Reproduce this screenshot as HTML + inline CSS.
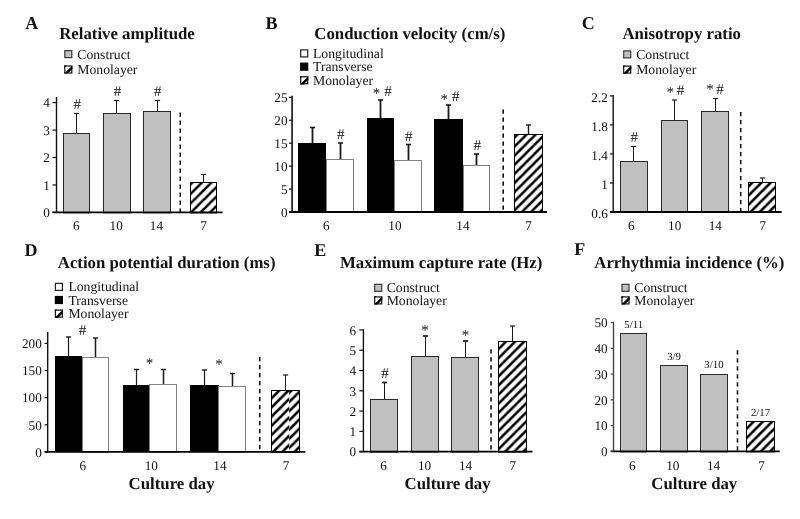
<!DOCTYPE html>
<html><head><meta charset="utf-8"><style>
html,body{margin:0;padding:0;background:#fff;}
svg{display:block;filter:grayscale(1) blur(0.35px);}
text{font-family:"Liberation Serif", serif;fill:#111;text-rendering:geometricPrecision;}
</style></head><body>
<svg width="800" height="519" viewBox="0 0 800 519">
<defs><pattern id="hA" patternUnits="userSpaceOnUse" x="4.5" y="0" width="9.5" height="9.5"><path d="M-4.75,4.75 L4.75,-4.75 M-4.75,14.25 L14.25,-4.75 M4.75,14.25 L14.25,4.75" stroke="#000" stroke-width="2.5"/></pattern><pattern id="hB" patternUnits="userSpaceOnUse" x="5.9" y="0" width="9.1" height="9.1"><path d="M-4.55,4.55 L4.55,-4.55 M-4.55,13.65 L13.65,-4.55 M4.55,13.65 L13.65,4.55" stroke="#000" stroke-width="2.5"/></pattern><pattern id="hC" patternUnits="userSpaceOnUse" x="5.7" y="0" width="9.2" height="9.2"><path d="M-4.6,4.6 L4.6,-4.6 M-4.6,13.8 L13.8,-4.6 M4.6,13.8 L13.8,4.6" stroke="#000" stroke-width="2.5"/></pattern><pattern id="hD" patternUnits="userSpaceOnUse" x="7.4" y="0" width="9.2" height="9.2"><path d="M-4.6,4.6 L4.6,-4.6 M-4.6,13.8 L13.8,-4.6 M4.6,13.8 L13.8,4.6" stroke="#000" stroke-width="2.5"/></pattern><pattern id="hD2" patternUnits="userSpaceOnUse" x="1.2" y="0" width="9.2" height="9.2"><path d="M-4.6,4.6 L4.6,-4.6 M-4.6,13.8 L13.8,-4.6 M4.6,13.8 L13.8,4.6" stroke="#000" stroke-width="2.5"/></pattern><pattern id="hE" patternUnits="userSpaceOnUse" x="1.3" y="0" width="9.1" height="9.1"><path d="M-4.55,4.55 L4.55,-4.55 M-4.55,13.65 L13.65,-4.55 M4.55,13.65 L13.65,4.55" stroke="#000" stroke-width="2.5"/></pattern><pattern id="hF" patternUnits="userSpaceOnUse" x="0.55" y="0" width="9.25" height="9.25"><path d="M-4.625,4.625 L4.625,-4.625 M-4.625,13.875 L13.875,-4.625 M4.625,13.875 L13.875,4.625" stroke="#000" stroke-width="2.5"/></pattern></defs>
<rect width="800" height="519" fill="#fff"/>
<text x="25.3" y="29.3" font-size="18" font-weight="bold" text-anchor="start">A</text>
<text x="59.2" y="38.5" font-size="16.8" font-weight="bold" text-anchor="start">Relative amplitude</text>
<rect x="64.8" y="50.6" width="6.999999999999999" height="6.999999999999999" fill="#c0c0c0" stroke="#383838" stroke-width="1.2"/>
<text x="77.3" y="58.6" font-size="13.7" text-anchor="start">Construct</text>
<rect x="64.8" y="66.0" width="6.999999999999999" height="6.999999999999999" fill="#fff" stroke="#111" stroke-width="1.2"/>
<polygon points="64.2,73.60000000000001 72.4,65.4 72.4,68.80000000000001 67.60000000000001,73.60000000000001" fill="#000"/>
<polygon points="64.2,65.4 66.4,65.4 64.2,67.60000000000001" fill="#000"/>
<text x="77.3" y="74.0" font-size="13.7" text-anchor="start">Monolayer</text>
<rect x="63.5" y="133.5" width="26" height="79.4" fill="#c0c0c0" stroke="#2a2a2a" stroke-width="1"/>
<line x1="76.5" y1="133" x2="76.5" y2="113.5" stroke="#1a1a1a" stroke-width="1.0"/>
<line x1="73.9" y1="113.5" x2="79.1" y2="113.5" stroke="#1a1a1a" stroke-width="1.2"/>
<text x="77.15" y="109.47" font-size="15" text-anchor="middle">#</text>
<rect x="103.5" y="113.5" width="27" height="99.4" fill="#c0c0c0" stroke="#2a2a2a" stroke-width="1"/>
<line x1="116.5" y1="114" x2="116.5" y2="100.5" stroke="#1a1a1a" stroke-width="1.0"/>
<line x1="113.9" y1="100.5" x2="119.1" y2="100.5" stroke="#1a1a1a" stroke-width="1.2"/>
<text x="117.6" y="96.29" font-size="15" text-anchor="middle">#</text>
<rect x="143.5" y="111.5" width="27" height="101.4" fill="#c0c0c0" stroke="#2a2a2a" stroke-width="1"/>
<line x1="157.5" y1="111" x2="157.5" y2="100.5" stroke="#1a1a1a" stroke-width="1.0"/>
<line x1="154.9" y1="100.5" x2="160.1" y2="100.5" stroke="#1a1a1a" stroke-width="1.2"/>
<text x="157.8" y="96.29" font-size="15" text-anchor="middle">#</text>
<rect x="190.5" y="182.5" width="26" height="30.400000000000006" fill="url(#hA)" stroke="#000" stroke-width="1"/>
<line x1="203.5" y1="182" x2="203.5" y2="174.5" stroke="#1a1a1a" stroke-width="1.0"/>
<line x1="200.9" y1="174.5" x2="206.1" y2="174.5" stroke="#1a1a1a" stroke-width="1.2"/>
<line x1="180.2" y1="112.4" x2="180.2" y2="212.4" stroke="#000" stroke-width="1.5" stroke-dasharray="4.3,3.7"/>
<text x="76.4" y="230.2" font-size="13.2" text-anchor="middle">6</text>
<text x="116.2" y="230.2" font-size="13.2" text-anchor="middle">10</text>
<text x="156.4" y="230.2" font-size="13.2" text-anchor="middle">14</text>
<text x="203.6" y="230.2" font-size="13.2" text-anchor="middle">7</text>
<text x="265.5" y="29.2" font-size="18" font-weight="bold" text-anchor="start">B</text>
<text x="314.3" y="39" font-size="16.8" font-weight="bold" text-anchor="start">Conduction velocity (cm/s)</text>
<rect x="300.70000000000005" y="49.9" width="6.999999999999999" height="6.999999999999999" fill="#fff" stroke="#222" stroke-width="1.2"/>
<text x="313" y="57.9" font-size="13.7" text-anchor="start">Longitudinal</text>
<rect x="300.1" y="62.6" width="8.2" height="8.2" fill="#000"/>
<text x="313" y="71.2" font-size="13.7" text-anchor="start">Transverse</text>
<rect x="300.70000000000005" y="76.8" width="6.999999999999999" height="6.999999999999999" fill="#fff" stroke="#111" stroke-width="1.2"/>
<polygon points="300.1,84.4 308.3,76.2 308.3,79.60000000000001 303.5,84.4" fill="#000"/>
<polygon points="300.1,76.2 302.3,76.2 300.1,78.4" fill="#000"/>
<text x="313" y="84.8" font-size="13.7" text-anchor="start">Monolayer</text>
<rect x="298" y="143" width="28" height="69.0" fill="#000"/>
<line x1="312.5" y1="144" x2="312.5" y2="127.5" stroke="#1a1a1a" stroke-width="1.8"/>
<line x1="310.0" y1="127.5" x2="315.0" y2="127.5" stroke="#1a1a1a" stroke-width="1.6"/>
<rect x="326.5" y="159.5" width="27" height="53.0" fill="#fff" stroke="#808080" stroke-width="1"/>
<line x1="340.5" y1="159" x2="340.5" y2="143.0" stroke="#1a1a1a" stroke-width="1.8"/>
<line x1="338.0" y1="143.0" x2="343.0" y2="143.0" stroke="#1a1a1a" stroke-width="1.6"/>
<text x="340.7" y="139.09" font-size="15" text-anchor="middle">#</text>
<rect x="367" y="118" width="27" height="94.0" fill="#000"/>
<line x1="380.5" y1="118" x2="380.5" y2="100.0" stroke="#1a1a1a" stroke-width="1.8"/>
<line x1="378.0" y1="100.0" x2="383.0" y2="100.0" stroke="#1a1a1a" stroke-width="1.6"/>
<text x="376.4" y="98.33" font-size="15" text-anchor="middle">*</text>
<text x="387.9" y="95.89" font-size="15" text-anchor="middle">#</text>
<rect x="394.5" y="160.5" width="27" height="52.0" fill="#fff" stroke="#808080" stroke-width="1"/>
<line x1="408.5" y1="160" x2="408.5" y2="144.5" stroke="#1a1a1a" stroke-width="1.8"/>
<line x1="406.0" y1="144.5" x2="411.0" y2="144.5" stroke="#1a1a1a" stroke-width="1.6"/>
<text x="408.75" y="140.79" font-size="15" text-anchor="middle">#</text>
<rect x="434" y="119" width="29" height="93.0" fill="#000"/>
<line x1="448.5" y1="120" x2="448.5" y2="105.0" stroke="#1a1a1a" stroke-width="1.8"/>
<line x1="446.0" y1="105.0" x2="451.0" y2="105.0" stroke="#1a1a1a" stroke-width="1.6"/>
<text x="444.3" y="103.53" font-size="15" text-anchor="middle">*</text>
<text x="455.8" y="101.09" font-size="15" text-anchor="middle">#</text>
<rect x="463.5" y="165.5" width="26" height="47.0" fill="#fff" stroke="#808080" stroke-width="1"/>
<line x1="476.5" y1="165" x2="476.5" y2="154.0" stroke="#1a1a1a" stroke-width="1.8"/>
<line x1="474.0" y1="154.0" x2="479.0" y2="154.0" stroke="#1a1a1a" stroke-width="1.6"/>
<text x="477.25" y="150.09" font-size="15" text-anchor="middle">#</text>
<rect x="514.5" y="134.5" width="28" height="78.0" fill="url(#hB)" stroke="#000" stroke-width="1"/>
<line x1="528.5" y1="134" x2="528.5" y2="125.0" stroke="#1a1a1a" stroke-width="1.4"/>
<line x1="525.9" y1="125.0" x2="531.1" y2="125.0" stroke="#1a1a1a" stroke-width="1.4"/>
<line x1="503.2" y1="109.4" x2="503.2" y2="212.0" stroke="#000" stroke-width="1.5" stroke-dasharray="4.3,3.7"/>
<text x="326.4" y="230.2" font-size="13.2" text-anchor="middle">6</text>
<text x="394.9" y="230.2" font-size="13.2" text-anchor="middle">10</text>
<text x="462.9" y="230.2" font-size="13.2" text-anchor="middle">14</text>
<text x="528.5" y="230.2" font-size="13.2" text-anchor="middle">7</text>
<text x="581.8" y="29.2" font-size="18" font-weight="bold" text-anchor="start">C</text>
<text x="622.4" y="38.9" font-size="16.8" font-weight="bold" text-anchor="start">Anisotropy ratio</text>
<rect x="623.7" y="50.9" width="6.999999999999999" height="6.999999999999999" fill="#c0c0c0" stroke="#383838" stroke-width="1.2"/>
<text x="636.2" y="58.9" font-size="13.7" text-anchor="start">Construct</text>
<rect x="623.7" y="66.1" width="6.999999999999999" height="6.999999999999999" fill="#fff" stroke="#111" stroke-width="1.2"/>
<polygon points="623.1,73.7 631.3000000000001,65.5 631.3000000000001,68.9 626.5,73.7" fill="#000"/>
<polygon points="623.1,65.5 625.3000000000001,65.5 623.1,67.7" fill="#000"/>
<text x="636.2" y="74.1" font-size="13.7" text-anchor="start">Monolayer</text>
<rect x="620.5" y="161.5" width="27" height="51" fill="#c0c0c0" stroke="#2a2a2a" stroke-width="1"/>
<line x1="633.5" y1="161" x2="633.5" y2="146.5" stroke="#1a1a1a" stroke-width="1.0"/>
<line x1="630.9" y1="146.5" x2="636.1" y2="146.5" stroke="#1a1a1a" stroke-width="1.2"/>
<text x="634.3" y="141.79" font-size="15" text-anchor="middle">#</text>
<rect x="661.5" y="120.5" width="26" height="92" fill="#c0c0c0" stroke="#2a2a2a" stroke-width="1"/>
<line x1="674.5" y1="120" x2="674.5" y2="100.0" stroke="#1a1a1a" stroke-width="1.0"/>
<line x1="671.9" y1="100.0" x2="677.1" y2="100.0" stroke="#1a1a1a" stroke-width="1.2"/>
<text x="670.2" y="97.43" font-size="15" text-anchor="middle">*</text>
<text x="680.4" y="95.49" font-size="15" text-anchor="middle">#</text>
<rect x="701.5" y="111.5" width="27" height="101" fill="#c0c0c0" stroke="#2a2a2a" stroke-width="1"/>
<line x1="715.5" y1="111" x2="715.5" y2="98.5" stroke="#1a1a1a" stroke-width="1.0"/>
<line x1="712.9" y1="98.5" x2="718.1" y2="98.5" stroke="#1a1a1a" stroke-width="1.2"/>
<text x="710.1" y="94.43" font-size="15" text-anchor="middle">*</text>
<text x="720.1" y="93.59" font-size="15" text-anchor="middle">#</text>
<rect x="748.5" y="182.5" width="27" height="30" fill="url(#hC)" stroke="#000" stroke-width="1"/>
<line x1="762.5" y1="182" x2="762.5" y2="178.0" stroke="#1a1a1a" stroke-width="1.0"/>
<line x1="759.9" y1="178.0" x2="765.1" y2="178.0" stroke="#1a1a1a" stroke-width="1.2"/>
<line x1="740.7" y1="111.9" x2="740.7" y2="212" stroke="#000" stroke-width="1.5" stroke-dasharray="4.3,3.7"/>
<text x="631.3" y="230.2" font-size="13.2" text-anchor="middle">6</text>
<text x="674.7" y="230.2" font-size="13.2" text-anchor="middle">10</text>
<text x="715.3" y="230.2" font-size="13.2" text-anchor="middle">14</text>
<text x="762.8" y="230.2" font-size="13.2" text-anchor="middle">7</text>
<text x="24.5" y="255.6" font-size="18" font-weight="bold" text-anchor="start">D</text>
<text x="57.8" y="267.8" font-size="16.8" font-weight="bold" text-anchor="start">Action potential duration (ms)</text>
<rect x="55.4" y="283.40000000000003" width="6.999999999999999" height="6.999999999999999" fill="#fff" stroke="#222" stroke-width="1.2"/>
<text x="68.4" y="291.4" font-size="13.7" text-anchor="start">Longitudinal</text>
<rect x="54.8" y="295.9" width="8.2" height="8.2" fill="#000"/>
<text x="68.4" y="304.5" font-size="13.7" text-anchor="start">Transverse</text>
<rect x="55.4" y="310.1" width="6.999999999999999" height="6.999999999999999" fill="#fff" stroke="#111" stroke-width="1.2"/>
<polygon points="54.8,317.7 63.0,309.5 63.0,312.9 58.199999999999996,317.7" fill="#000"/>
<polygon points="54.8,309.5 57.0,309.5 54.8,311.7" fill="#000"/>
<text x="68.4" y="318.1" font-size="13.7" text-anchor="start">Monolayer</text>
<rect x="55" y="356" width="27" height="95.89999999999998" fill="#000"/>
<line x1="68.5" y1="356" x2="68.5" y2="337.0" stroke="#1a1a1a" stroke-width="1.2"/>
<line x1="65.9" y1="337.0" x2="71.1" y2="337.0" stroke="#1a1a1a" stroke-width="1.4"/>
<rect x="82.5" y="357.5" width="26" height="94.89999999999998" fill="#fff" stroke="#808080" stroke-width="1"/>
<line x1="95.5" y1="357" x2="95.5" y2="338.0" stroke="#1a1a1a" stroke-width="1.5"/>
<line x1="92.9" y1="338.0" x2="98.1" y2="338.0" stroke="#1a1a1a" stroke-width="1.4"/>
<rect x="123" y="385" width="27" height="66.89999999999998" fill="#000"/>
<line x1="136.5" y1="385" x2="136.5" y2="369.5" stroke="#1a1a1a" stroke-width="1.2"/>
<line x1="133.9" y1="369.5" x2="139.1" y2="369.5" stroke="#1a1a1a" stroke-width="1.4"/>
<rect x="149.5" y="384.5" width="27" height="67.89999999999998" fill="#fff" stroke="#808080" stroke-width="1"/>
<line x1="163.5" y1="384" x2="163.5" y2="369.5" stroke="#1a1a1a" stroke-width="1.5"/>
<line x1="160.9" y1="369.5" x2="166.1" y2="369.5" stroke="#1a1a1a" stroke-width="1.4"/>
<rect x="190" y="385" width="29" height="66.89999999999998" fill="#000"/>
<line x1="204.5" y1="385" x2="204.5" y2="370.0" stroke="#1a1a1a" stroke-width="1.2"/>
<line x1="201.9" y1="370.0" x2="207.1" y2="370.0" stroke="#1a1a1a" stroke-width="1.4"/>
<rect x="218.5" y="386.5" width="27" height="65.89999999999998" fill="#fff" stroke="#808080" stroke-width="1"/>
<line x1="232.5" y1="386" x2="232.5" y2="373.5" stroke="#1a1a1a" stroke-width="1.5"/>
<line x1="229.9" y1="373.5" x2="235.1" y2="373.5" stroke="#1a1a1a" stroke-width="1.4"/>
<text x="82.6" y="335.39" font-size="15" text-anchor="middle">#</text>
<text x="149.5" y="368.33" font-size="15" text-anchor="middle">*</text>
<text x="219.1" y="368.63" font-size="15" text-anchor="middle">*</text>
<rect x="271.5" y="390.5" width="28" height="61.89999999999998" fill="url(#hD)" stroke="#000" stroke-width="1"/>
<rect x="289.2" y="391" width="10.1" height="60.89999999999998" fill="#fff"/>
<rect x="289.2" y="391" width="10.1" height="60.89999999999998" fill="url(#hD2)"/>
<line x1="299.5" y1="390" x2="299.5" y2="451.9" stroke="#000" stroke-width="1"/>
<line x1="285.5" y1="390" x2="285.5" y2="375.0" stroke="#1a1a1a" stroke-width="1.0"/>
<line x1="282.9" y1="375.0" x2="288.1" y2="375.0" stroke="#1a1a1a" stroke-width="1.2"/>
<line x1="259.7" y1="356.9" x2="259.7" y2="451.9" stroke="#000" stroke-width="1.5" stroke-dasharray="4.3,3.7"/>
<text x="82.8" y="469.8" font-size="13.2" text-anchor="middle">6</text>
<text x="151.3" y="469.8" font-size="13.2" text-anchor="middle">10</text>
<text x="219.9" y="469.8" font-size="13.2" text-anchor="middle">14</text>
<text x="286.1" y="469.8" font-size="13.2" text-anchor="middle">7</text>
<text x="171.6" y="489" font-size="16.8" font-weight="bold" text-anchor="middle">Culture day</text>
<text x="314.3" y="255.6" font-size="18" font-weight="bold" text-anchor="start">E</text>
<text x="340" y="268.1" font-size="16.8" font-weight="bold" text-anchor="start">Maximum capture rate (Hz)</text>
<rect x="374.70000000000005" y="284.3" width="6.999999999999999" height="6.999999999999999" fill="#c0c0c0" stroke="#383838" stroke-width="1.2"/>
<text x="386.7" y="292.3" font-size="13.7" text-anchor="start">Construct</text>
<rect x="374.70000000000005" y="296.90000000000003" width="6.999999999999999" height="6.999999999999999" fill="#fff" stroke="#111" stroke-width="1.2"/>
<polygon points="374.1,304.5 382.3,296.3 382.3,299.7 377.5,304.5" fill="#000"/>
<polygon points="374.1,296.3 376.3,296.3 374.1,298.5" fill="#000"/>
<text x="386.7" y="304.9" font-size="13.7" text-anchor="start">Monolayer</text>
<rect x="370.5" y="399.5" width="27" height="52.60000000000002" fill="#c0c0c0" stroke="#2a2a2a" stroke-width="1"/>
<line x1="384.5" y1="399" x2="384.5" y2="382.5" stroke="#1a1a1a" stroke-width="1.0"/>
<line x1="381.9" y1="382.5" x2="387.1" y2="382.5" stroke="#1a1a1a" stroke-width="1.7"/>
<text x="385.0" y="378.39" font-size="15" text-anchor="middle">#</text>
<rect x="411.5" y="356.5" width="27" height="95.60000000000002" fill="#c0c0c0" stroke="#2a2a2a" stroke-width="1"/>
<line x1="425.5" y1="356" x2="425.5" y2="336.0" stroke="#1a1a1a" stroke-width="1.0"/>
<line x1="422.9" y1="336.0" x2="428.1" y2="336.0" stroke="#1a1a1a" stroke-width="1.7"/>
<text x="425.0" y="335.03" font-size="15" text-anchor="middle">*</text>
<rect x="451.5" y="357.5" width="27" height="94.60000000000002" fill="#c0c0c0" stroke="#2a2a2a" stroke-width="1"/>
<line x1="465.5" y1="357" x2="465.5" y2="341.0" stroke="#1a1a1a" stroke-width="1.0"/>
<line x1="462.9" y1="341.0" x2="468.1" y2="341.0" stroke="#1a1a1a" stroke-width="1.7"/>
<text x="465.5" y="340.03" font-size="15" text-anchor="middle">*</text>
<rect x="498.5" y="341.5" width="28" height="110.60000000000002" fill="url(#hE)" stroke="#000" stroke-width="1"/>
<line x1="512.5" y1="341" x2="512.5" y2="326.0" stroke="#1a1a1a" stroke-width="1.0"/>
<line x1="509.9" y1="326.0" x2="515.1" y2="326.0" stroke="#1a1a1a" stroke-width="1.2"/>
<line x1="491.0" y1="349.3" x2="491.0" y2="451.6" stroke="#000" stroke-width="1.5" stroke-dasharray="4.3,3.7"/>
<text x="383.6" y="469.8" font-size="13.2" text-anchor="middle">6</text>
<text x="424.5" y="469.8" font-size="13.2" text-anchor="middle">10</text>
<text x="465.6" y="469.8" font-size="13.2" text-anchor="middle">14</text>
<text x="512.8" y="469.8" font-size="13.2" text-anchor="middle">7</text>
<text x="447.6" y="488.5" font-size="16.8" font-weight="bold" text-anchor="middle">Culture day</text>
<text x="574.3" y="255.4" font-size="18" font-weight="bold" text-anchor="start">F</text>
<text x="594.3" y="268.1" font-size="16.8" font-weight="bold" text-anchor="start">Arrhythmia incidence (%)</text>
<rect x="622.0" y="284.3" width="6.999999999999999" height="6.999999999999999" fill="#c0c0c0" stroke="#383838" stroke-width="1.2"/>
<text x="634.3" y="292.3" font-size="13.7" text-anchor="start">Construct</text>
<rect x="622.0" y="296.90000000000003" width="6.999999999999999" height="6.999999999999999" fill="#fff" stroke="#111" stroke-width="1.2"/>
<polygon points="621.4,304.5 629.6,296.3 629.6,299.7 624.8,304.5" fill="#000"/>
<polygon points="621.4,296.3 623.6,296.3 621.4,298.5" fill="#000"/>
<text x="634.3" y="304.9" font-size="13.7" text-anchor="start">Monolayer</text>
<rect x="620.5" y="333.5" width="26" height="118.39999999999998" fill="#c0c0c0" stroke="#2a2a2a" stroke-width="1"/>
<text x="633.65" y="327.9" font-size="10.8" text-anchor="middle">5/11</text>
<rect x="660.5" y="365.5" width="27" height="86.39999999999998" fill="#c0c0c0" stroke="#2a2a2a" stroke-width="1"/>
<text x="674.05" y="360.0" font-size="10.8" text-anchor="middle">3/9</text>
<rect x="700.5" y="374.5" width="27" height="77.39999999999998" fill="#c0c0c0" stroke="#2a2a2a" stroke-width="1"/>
<text x="713.95" y="368.4" font-size="10.8" text-anchor="middle">3/10</text>
<rect x="746.5" y="421.5" width="28" height="30.399999999999977" fill="url(#hF)" stroke="#000" stroke-width="1"/>
<text x="760.5" y="416.40000000000003" font-size="10.8" text-anchor="middle">2/17</text>
<line x1="737.5" y1="350.3" x2="737.5" y2="451.4" stroke="#000" stroke-width="1.5" stroke-dasharray="4.3,3.7"/>
<text x="632.3" y="469.8" font-size="13.2" text-anchor="middle">6</text>
<text x="672.8" y="469.8" font-size="13.2" text-anchor="middle">10</text>
<text x="713.6" y="469.8" font-size="13.2" text-anchor="middle">14</text>
<text x="761.5" y="469.8" font-size="13.2" text-anchor="middle">7</text>
<text x="694.3" y="488.9" font-size="16.8" font-weight="bold" text-anchor="middle">Culture day</text>
<line x1="56.5" y1="97" x2="56.5" y2="212.4" stroke="#111" stroke-width="1.4"/>
<line x1="52.5" y1="212.4" x2="222.6" y2="212.4" stroke="#000" stroke-width="1.8"/>
<line x1="52.5" y1="212.4" x2="56.5" y2="212.4" stroke="#111" stroke-width="1.2"/>
<text x="49.8" y="217.2" font-size="13.2" text-anchor="end">0</text>
<line x1="52.5" y1="184.95000000000002" x2="56.5" y2="184.95000000000002" stroke="#111" stroke-width="1.2"/>
<text x="49.8" y="189.75" font-size="13.2" text-anchor="end">1</text>
<line x1="52.5" y1="157.5" x2="56.5" y2="157.5" stroke="#111" stroke-width="1.2"/>
<text x="49.8" y="162.3" font-size="13.2" text-anchor="end">2</text>
<line x1="52.5" y1="130.05" x2="56.5" y2="130.05" stroke="#111" stroke-width="1.2"/>
<text x="49.8" y="134.85" font-size="13.2" text-anchor="end">3</text>
<line x1="52.5" y1="102.60000000000001" x2="56.5" y2="102.60000000000001" stroke="#111" stroke-width="1.2"/>
<text x="49.8" y="107.4" font-size="13.2" text-anchor="end">4</text>
<line x1="292.1" y1="95.8" x2="292.1" y2="212.0" stroke="#111" stroke-width="1.6"/>
<line x1="289" y1="212.0" x2="547" y2="212.0" stroke="#000" stroke-width="2.0"/>
<line x1="289" y1="212.0" x2="292.1" y2="212.0" stroke="#111" stroke-width="1.2"/>
<text x="287.5" y="216.8" font-size="13.2" text-anchor="end">0</text>
<line x1="289" y1="189.06" x2="292.1" y2="189.06" stroke="#111" stroke-width="1.2"/>
<text x="287.5" y="193.86" font-size="13.2" text-anchor="end">5</text>
<line x1="289" y1="166.12" x2="292.1" y2="166.12" stroke="#111" stroke-width="1.2"/>
<text x="287.5" y="170.92" font-size="13.2" text-anchor="end">10</text>
<line x1="289" y1="143.18" x2="292.1" y2="143.18" stroke="#111" stroke-width="1.2"/>
<text x="287.5" y="147.98" font-size="13.2" text-anchor="end">15</text>
<line x1="289" y1="120.24" x2="292.1" y2="120.24" stroke="#111" stroke-width="1.2"/>
<text x="287.5" y="125.04" font-size="13.2" text-anchor="end">20</text>
<line x1="289" y1="97.3" x2="292.1" y2="97.3" stroke="#111" stroke-width="1.2"/>
<text x="287.5" y="102.1" font-size="13.2" text-anchor="end">25</text>
<line x1="613.2" y1="95" x2="613.2" y2="212" stroke="#111" stroke-width="1.4"/>
<line x1="610" y1="212" x2="781.6" y2="212" stroke="#000" stroke-width="1.8"/>
<line x1="610" y1="212.0" x2="613.2" y2="212.0" stroke="#111" stroke-width="1.2"/>
<text x="607.8" y="218.3" font-size="13.2" text-anchor="end">0.6</text>
<line x1="610" y1="182.976" x2="613.2" y2="182.976" stroke="#111" stroke-width="1.2"/>
<text x="607.8" y="189.28" font-size="13.2" text-anchor="end">1</text>
<line x1="610" y1="153.952" x2="613.2" y2="153.952" stroke="#111" stroke-width="1.2"/>
<text x="607.8" y="160.25" font-size="13.2" text-anchor="end">1.4</text>
<line x1="610" y1="124.92799999999998" x2="613.2" y2="124.92799999999998" stroke="#111" stroke-width="1.2"/>
<text x="607.8" y="131.23" font-size="13.2" text-anchor="end">1.8</text>
<line x1="610" y1="95.904" x2="613.2" y2="95.904" stroke="#111" stroke-width="1.2"/>
<text x="607.8" y="102.2" font-size="13.2" text-anchor="end">2.2</text>
<line x1="47.7" y1="332" x2="47.7" y2="451.9" stroke="#111" stroke-width="1.4"/>
<line x1="44.6" y1="451.9" x2="305.3" y2="451.9" stroke="#000" stroke-width="1.8"/>
<line x1="44.6" y1="451.9" x2="47.7" y2="451.9" stroke="#111" stroke-width="1.2"/>
<text x="41.8" y="456.7" font-size="13.2" text-anchor="end">0</text>
<line x1="44.6" y1="424.775" x2="47.7" y2="424.775" stroke="#111" stroke-width="1.2"/>
<text x="41.8" y="429.57" font-size="13.2" text-anchor="end">50</text>
<line x1="44.6" y1="397.65" x2="47.7" y2="397.65" stroke="#111" stroke-width="1.2"/>
<text x="41.8" y="402.45" font-size="13.2" text-anchor="end">100</text>
<line x1="44.6" y1="370.525" x2="47.7" y2="370.525" stroke="#111" stroke-width="1.2"/>
<text x="41.8" y="375.32" font-size="13.2" text-anchor="end">150</text>
<line x1="44.6" y1="343.4" x2="47.7" y2="343.4" stroke="#111" stroke-width="1.2"/>
<text x="41.8" y="348.2" font-size="13.2" text-anchor="end">200</text>
<line x1="363.4" y1="329.2" x2="363.4" y2="451.6" stroke="#111" stroke-width="1.4"/>
<line x1="359.3" y1="451.6" x2="532.5" y2="451.6" stroke="#000" stroke-width="1.8"/>
<line x1="359.3" y1="451.6" x2="363.4" y2="451.6" stroke="#111" stroke-width="1.2"/>
<text x="356.2" y="456.4" font-size="13.2" text-anchor="end">0</text>
<line x1="359.3" y1="431.33000000000004" x2="363.4" y2="431.33000000000004" stroke="#111" stroke-width="1.2"/>
<text x="356.2" y="436.13" font-size="13.2" text-anchor="end">1</text>
<line x1="359.3" y1="411.06" x2="363.4" y2="411.06" stroke="#111" stroke-width="1.2"/>
<text x="356.2" y="415.86" font-size="13.2" text-anchor="end">2</text>
<line x1="359.3" y1="390.79" x2="363.4" y2="390.79" stroke="#111" stroke-width="1.2"/>
<text x="356.2" y="395.59" font-size="13.2" text-anchor="end">3</text>
<line x1="359.3" y1="370.52000000000004" x2="363.4" y2="370.52000000000004" stroke="#111" stroke-width="1.2"/>
<text x="356.2" y="375.32" font-size="13.2" text-anchor="end">4</text>
<line x1="359.3" y1="350.25" x2="363.4" y2="350.25" stroke="#111" stroke-width="1.2"/>
<text x="356.2" y="355.05" font-size="13.2" text-anchor="end">5</text>
<line x1="359.3" y1="329.98" x2="363.4" y2="329.98" stroke="#111" stroke-width="1.2"/>
<text x="356.2" y="334.78" font-size="13.2" text-anchor="end">6</text>
<line x1="613.5" y1="321.8" x2="613.5" y2="451.4" stroke="#444" stroke-width="1.4"/>
<line x1="610.7" y1="451.4" x2="779.7" y2="451.4" stroke="#000" stroke-width="1.8"/>
<line x1="610.7" y1="451.4" x2="613.5" y2="451.4" stroke="#444" stroke-width="1.2"/>
<text x="607.6" y="456.2" font-size="13.2" text-anchor="end">0</text>
<line x1="610.7" y1="425.62" x2="613.5" y2="425.62" stroke="#444" stroke-width="1.2"/>
<text x="607.6" y="430.42" font-size="13.2" text-anchor="end">10</text>
<line x1="610.7" y1="399.84" x2="613.5" y2="399.84" stroke="#444" stroke-width="1.2"/>
<text x="607.6" y="404.64" font-size="13.2" text-anchor="end">20</text>
<line x1="610.7" y1="374.06" x2="613.5" y2="374.06" stroke="#444" stroke-width="1.2"/>
<text x="607.6" y="378.86" font-size="13.2" text-anchor="end">30</text>
<line x1="610.7" y1="348.28" x2="613.5" y2="348.28" stroke="#444" stroke-width="1.2"/>
<text x="607.6" y="353.08" font-size="13.2" text-anchor="end">40</text>
<line x1="610.7" y1="322.5" x2="613.5" y2="322.5" stroke="#444" stroke-width="1.2"/>
<text x="607.6" y="327.3" font-size="13.2" text-anchor="end">50</text>
</svg>
</body></html>
